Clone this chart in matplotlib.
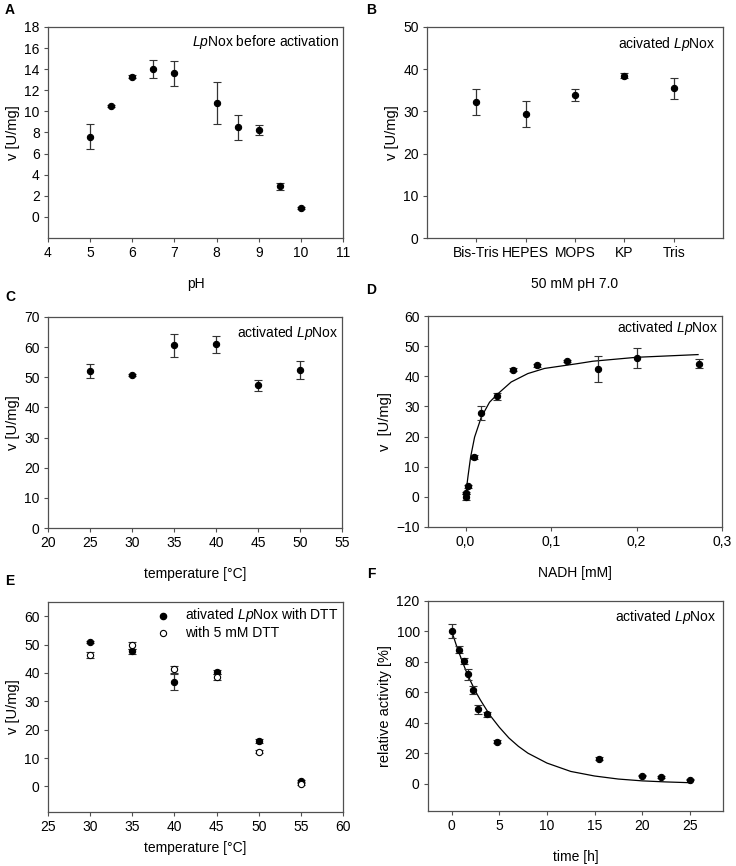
import matplotlib
matplotlib.use("Agg")
import matplotlib.pyplot as plt
from matplotlib.ticker import FuncFormatter

plt.rcParams['font.family'] = ['Liberation Sans', 'DejaVu Sans']
plt.rcParams['mathtext.fontset'] = 'custom'
plt.rcParams['mathtext.rm'] = 'Liberation Sans'
plt.rcParams['mathtext.it'] = 'Liberation Sans:italic'
plt.rcParams['font.size'] = 10

# A: pH profile before activation
ph = [5, 5.5, 6, 6.5, 7, 8, 8.5, 9, 9.5, 10]
ph_v = [7.6, 10.5, 13.3, 14.0, 13.6, 10.8, 8.5, 8.25, 2.9, 0.88]
ph_err = [1.2, 0.1, 0.12, 0.85, 1.2, 2.0, 1.2, 0.5, 0.35, 0.1]

# B: buffers, 50 mM pH 7.0
buffers = ['Bis-Tris', 'HEPES', 'MOPS', 'KP', 'Tris']
buf_v = [32.3, 29.4, 33.9, 38.5, 35.5]
buf_err = [3.1, 3.0, 1.4, 0.5, 2.5]

# C: temperature, activated
temp_c = [25, 30, 35, 40, 45, 50]
temp_v = [52.1, 50.8, 60.6, 60.9, 47.4, 52.4]
temp_err = [2.3, 0.4, 3.8, 2.8, 1.8, 3.0]

# D: NADH kinetics
nadh = [0.0, 0.001, 0.003, 0.0097, 0.018, 0.037, 0.055, 0.083, 0.119, 0.155, 0.201, 0.273]
nadh_v = [-0.2, 1.3, 3.5, 13.2, 27.7, 33.3, 42.2, 43.6, 45.1, 42.4, 46.1, 44.2]
nadh_err = [1.0, 0.4, 0.4, 0.6, 2.3, 1.2, 0.4, 0.4, 0.4, 4.3, 3.2, 1.6]
fit_nadh = [0.0008, 0.0027, 0.0058, 0.0105, 0.0183, 0.028, 0.0378, 0.0533, 0.0728,
            0.0923, 0.131, 0.149, 0.2, 0.272]
fit_nadh_v = [2.2, 6.6, 13.1, 19.8, 26.4, 31.4, 34.2, 38.1, 40.9, 42.6, 44.2, 45.0,
              46.3, 47.2]

# E: temperature, with DTT
temp_e = [30, 35, 40, 45, 50, 55]
dtt_v = [50.9, 47.6, 36.8, 40.4, 16.0, 1.9]
dtt_err = [0.5, 0.8, 2.7, 0.8, 0.7, 0.4]
dtt5_v = [46.3, 49.7, 41.3, 38.6, 12.3, 0.9]
dtt5_err = [1.2, 1.2, 1.2, 1.0, 0.4, 0.3]

# F: stability over time
time_h = [0, 0.75, 1.25, 1.75, 2.25, 2.75, 3.75, 4.75, 15.5, 20, 22, 25]
rel_act = [100.3, 88.0, 80.4, 71.8, 61.5, 48.8, 45.5, 27.6, 16.2, 5.3, 4.4, 2.7]
rel_err = [4.4, 2.2, 2.0, 3.7, 2.5, 3.0, 1.7, 1.0, 1.0, 0.6, 0.8, 0.5]
fit_t = [0, 0.5, 1, 1.5, 2, 2.5, 3, 4, 5, 6, 7, 8, 10, 12.5, 15, 17.5, 20, 22.5, 25]
fit_rel = [100, 90.5, 82, 74, 67, 60.5, 55, 45, 37, 30, 24.5, 20, 13.5, 8, 5, 3, 1.8,
           1.1, 0.6]

W, H = 736, 866
fig = plt.figure(figsize=(W / 100, H / 100), dpi=100)


def make_ax(l, r, t, b):
    ax = fig.add_axes([l / W, 1 - b / H, (r - l) / W, (b - t) / H])
    for s in ax.spines.values():
        s.set_color('#505050')
        s.set_linewidth(0.9)
    ax.tick_params(direction='out', length=3, width=0.8, color='#505050',
                   labelsize=10, pad=3)
    return ax


def points(ax, x, y, err, face='black'):
    ax.errorbar(x, y, yerr=err, fmt='o', ms=4.5, mfc=face, mec='black', mew=0.8,
                ecolor='#333333', elinewidth=0.9, capsize=2.8, capthick=0.9)


def note(ax, x, y, txt):
    ax.text(x, y, txt, transform=ax.transAxes, ha='right', va='center', fontsize=10)


axA = make_ax(48, 343, 27, 238)
points(axA, ph, ph_v, ph_err)
axA.set_xlim(4, 11)
axA.set_ylim(-2, 18)
axA.set_yticks(range(0, 19, 2))
axA.set_xlabel('pH', labelpad=12)
axA.set_ylabel('v [U/mg]', labelpad=3, fontsize=10.5)
note(axA, 0.986, 0.93, r'$\it{Lp}$Nox before activation')

axB = make_ax(427, 723, 27, 238)
points(axB, range(1, len(buffers) + 1), buf_v, buf_err)
axB.set_xlim(0, 6)
axB.set_ylim(0, 50)
axB.set_xticks(range(1, len(buffers) + 1))
axB.set_xticklabels(buffers)
axB.set_xlabel('50 mM pH 7.0', labelpad=12)
axB.set_ylabel('v [U/mg]', labelpad=3, fontsize=10.5)
note(axB, 0.976, 0.92, r'acivated $\it{Lp}$Nox')

axC = make_ax(48, 342, 317, 528)
points(axC, temp_c, temp_v, temp_err)
axC.set_xlim(20, 55)
axC.set_ylim(0, 70)
axC.set_xlabel('temperature [°C]', labelpad=12)
axC.set_ylabel('v [U/mg]', labelpad=3, fontsize=10.5)
note(axC, 0.986, 0.924, r'activated $\it{Lp}$Nox')

axD = make_ax(428, 722, 316, 527)
axD.plot(fit_nadh, fit_nadh_v, color='black', lw=0.9)
points(axD, nadh, nadh_v, nadh_err)
axD.set_xlim(-0.044, 0.3)
axD.set_ylim(-10, 60)
axD.set_xticks([0.0, 0.1, 0.2, 0.3])
axD.xaxis.set_major_formatter(FuncFormatter(lambda v, p: f'{v:.1f}'.replace('.', ',')))
axD.set_xlabel('NADH [mM]', labelpad=12)
axD.set_ylabel('v  [U/mg]', labelpad=3, fontsize=10.5)
note(axD, 0.986, 0.945, r'activated $\it{Lp}$Nox')

axE = make_ax(48, 343, 602, 812)
points(axE, temp_e, dtt_v, dtt_err)
points(axE, temp_e, dtt5_v, dtt5_err, face='white')
axE.set_xlim(25, 60)
axE.set_ylim(-9, 65)
axE.set_yticks(range(0, 61, 10))
axE.set_xlabel('temperature [°C]', labelpad=5)
axE.set_ylabel('v [U/mg]', labelpad=3, fontsize=10.5)
h1 = axE.scatter([], [], s=20, color='black')
h2 = axE.scatter([], [], s=20, facecolor='white', edgecolor='black', lw=0.8)
axE.legend([h1, h2], [r'ativated $\it{Lp}$Nox with DTT', 'with 5 mM DTT'],
           loc='upper right', frameon=False, fontsize=10, handlelength=1.0,
           handletextpad=1.1, labelspacing=0.12, borderaxespad=0.0, borderpad=0.3)

axF = make_ax(428, 723, 601, 811)
axF.plot(fit_t, fit_rel, color='black', lw=0.9)
points(axF, time_h, rel_act, rel_err)
axF.set_xlim(-2.5, 28.5)
axF.set_ylim(-18, 120)
axF.set_xticks(range(0, 26, 5))
axF.set_yticks(range(0, 121, 20))
axF.set_xlabel('time [h]', labelpad=12)
axF.set_ylabel('relative activity [%]', labelpad=3, fontsize=10.5)
note(axF, 0.976, 0.924, r'activated $\it{Lp}$Nox')

for lab, x, y in [('A', 10, 10), ('B', 371, 10), ('C', 10, 297), ('D', 371, 290),
                  ('E', 10, 581), ('F', 371, 574)]:
    fig.text(x / W, 1 - y / H, lab, fontsize=10, fontweight='bold', ha='center', va='center')

fig.savefig('out.png', dpi=100, facecolor='white')
